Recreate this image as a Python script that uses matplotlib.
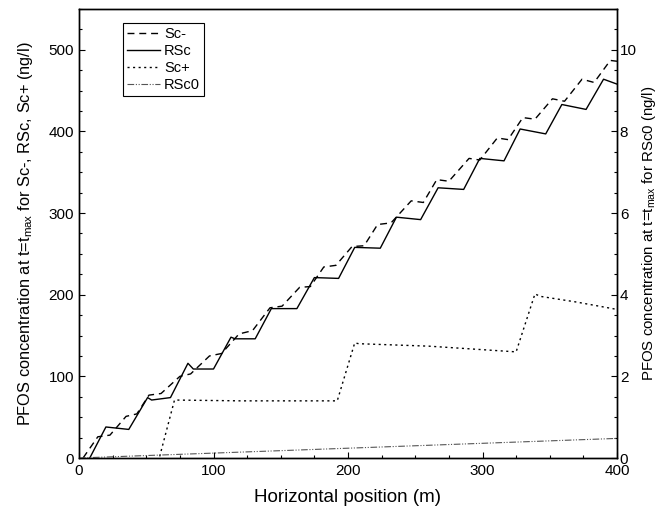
import numpy as np
import matplotlib
matplotlib.use("Agg")
import matplotlib.pyplot as plt
from matplotlib.ticker import MultipleLocator

# =============================================================================
# values

# Sc- (dashed), left axis
sc_minus_x = [3, 14, 23, 35, 43, 52, 61, 75, 83, 97, 106, 119, 129, 142, 151,
              164, 172, 182, 191, 203, 212, 222, 232, 247, 256, 266, 275, 290,
              298, 311, 319, 330, 339, 352, 361, 374, 383, 395, 400]
sc_minus_y = [0, 26, 28, 51, 54, 77, 79, 100, 103, 125, 128, 152, 156, 184, 186,
              209, 210, 234, 236, 259, 260, 286, 288, 315, 313, 341, 339, 367,
              365, 392, 390, 417, 415, 440, 437, 464, 460, 487, 486]

# RSc (solid), left axis
rsc_x = [8, 20, 37, 51, 54, 68, 81, 85, 100, 113, 116, 131, 143, 162, 175, 193,
         205, 224, 236, 254, 267, 286, 298, 316, 328, 347, 359, 377, 390, 400]
rsc_y = [0, 38, 35, 74, 71, 74, 116, 109, 109, 148, 146, 146, 183, 183, 221, 220,
         258, 257, 295, 292, 331, 329, 367, 364, 403, 397, 433, 427, 464, 458]

# Sc+ (dotted), left axis
sc_plus_x = [60, 71, 120, 192, 205, 208, 260, 325, 339, 343, 370, 400]
sc_plus_y = [2, 71, 70, 70, 141, 140, 137, 130, 201, 198, 191, 182]

# RSc0 (dash-dot), right axis
rsc0_x = [0, 50, 100, 150, 200, 250, 300, 350, 400]
rsc0_y = [0.0, 0.06, 0.12, 0.18, 0.24, 0.30, 0.36, 0.42, 0.48]

# =============================================================================

def main():
  plt.rcParams['font.family'] = ['Liberation Sans', 'DejaVu Sans']
  plt.rcParams['mathtext.fontset'] = 'custom'
  plt.rcParams['mathtext.rm'] = 'Liberation Sans'
  plt.rcParams['mathtext.it'] = 'Liberation Sans'

  fig = plt.figure(figsize=(6.59, 5.11), dpi=100)
  ax = fig.add_axes([79 / 659, 53 / 511, 538 / 659, 449 / 511])
  ax2 = ax.twinx()

  l1, = ax.plot(sc_minus_x, sc_minus_y, color='black', lw=1.0,
                linestyle=(0, (5, 3.5)), label='Sc-')
  l2, = ax.plot(rsc_x, rsc_y, color='black', lw=1.0, label='RSc')
  l3, = ax.plot(sc_plus_x, sc_plus_y, color='black', lw=1.0,
                linestyle=(0, (1.5, 2.5)), label='Sc+')
  l4, = ax2.plot(rsc0_x, rsc0_y, color='#555555', lw=0.8,
                 linestyle=(0, (6, 1.5, 1, 1.5, 1, 1.5)), label='RSc0')

  ax.set_xlim(0, 400)
  ax.set_ylim(0, 550)
  ax2.set_ylim(0, 11)

  ax.xaxis.set_major_locator(MultipleLocator(100))
  ax.xaxis.set_minor_locator(MultipleLocator(25))
  ax.yaxis.set_major_locator(MultipleLocator(100))
  ax.yaxis.set_minor_locator(MultipleLocator(25))
  ax2.yaxis.set_major_locator(MultipleLocator(2))
  ax2.yaxis.set_minor_locator(MultipleLocator(0.5))

  for a in (ax, ax2):
    a.tick_params(which='both', direction='in', labelsize=11, width=0.8)
    a.tick_params(which='major', length=4)
    a.tick_params(which='minor', length=2.5)
    for s in a.spines.values():
      s.set_linewidth(1.0)
  ax.tick_params(axis='x', pad=4)
  ax2.tick_params(axis='y', pad=2)

  ax.set_xlabel("Horizontal position (m)", fontsize=13.5, labelpad=8)
  ax.set_ylabel("PFOS concentration at t=t$_\\mathregular{max}$ for Sc-, RSc, Sc+ (ng/l)",
                fontsize=11.8, labelpad=10)
  ax2.set_ylabel("PFOS concentration at t=t$_\\mathregular{max}$ for RSc0 (ng/l)",
                 fontsize=10.8, labelpad=2)

  leg = ax2.legend(handles=[l1, l2, l3, l4], loc='upper left',
                   bbox_to_anchor=(0.082, 0.969), borderaxespad=0,
                   fontsize=10.5, handlelength=2.2, handletextpad=0.3,
                   labelspacing=0.2, borderpad=0.3, fancybox=False,
                   framealpha=1, edgecolor='black')
  leg.get_frame().set_linewidth(0.8)

  fig.savefig("out.png", dpi=100)

# Execute
if __name__ == "__main__":
  main()
